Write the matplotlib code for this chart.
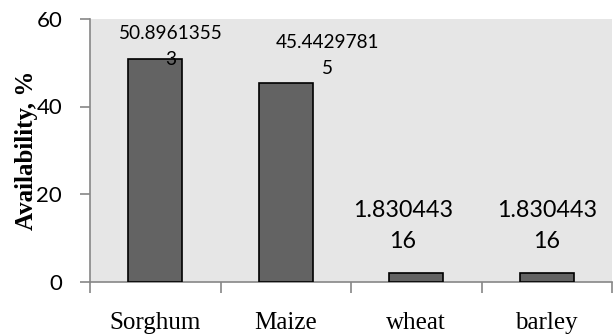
import textwrap
import matplotlib
matplotlib.use("Agg")
import matplotlib.pyplot as plt
from matplotlib.ticker import FixedLocator

# Feed availability by cereal
categories = ["Sorghum", "Maize", "wheat", "barley"]
availability = [50.89613553, 45.44297815, 1.83044316, 1.83044316]
y_ticks = [0, 20, 40, 60]

# Label styling: wrap width (chars), font size, offset from bar top (points)
label_wrap = [10, 10, 8, 8]
label_size = [13.7, 13.7, 16.8, 16.8]
label_offset = [(11.2, 8.9), (30.2, 19.6), (-9.7, 34.2), (0.0, 34.2)]

AXIS_GREY = "#868686"

fig = plt.figure(figsize=(6.13, 3.35), dpi=100)
ax = fig.add_axes([90 / 613, (335 - 281.5) / 335, 522 / 613, (281.5 - 19) / 335])
ax.set_facecolor("#e6e6e6")

x = range(len(categories))
ax.bar(x, availability, width=0.41, color="#636363", edgecolor="black", linewidth=1.2, zorder=3)

for i, v in enumerate(availability):
    text = "\n".join(textwrap.wrap(str(v), label_wrap[i]))
    ax.annotate(text, xy=(i, v), xytext=label_offset[i], textcoords="offset points",
                ha="center", va="center", fontsize=label_size[i], family="Lato",
                color="black", linespacing=1.6, zorder=4)

ax.set_xlim(-0.5, len(categories) - 0.5)
ax.set_ylim(0, 60)

for side in ("top", "right"):
    ax.spines[side].set_visible(False)
for side in ("left", "bottom"):
    ax.spines[side].set_color(AXIS_GREY)
    ax.spines[side].set_linewidth(1.2)

ax.yaxis.set_major_locator(FixedLocator(y_ticks))
ax.tick_params(axis="y", direction="out", length=7, width=1.2, color=AXIS_GREY,
               labelsize=16, pad=13)
for lbl in ax.get_yticklabels():
    lbl.set_family("Lato")

ax.set_xticks(list(x))
ax.set_xticklabels(categories, family="Liberation Serif", fontsize=18)
ax.set_xticks([i - 0.5 for i in range(len(categories) + 1)], minor=True)
ax.tick_params(axis="x", which="major", length=0, pad=22)
ax.tick_params(axis="x", which="minor", direction="out", length=8, width=1.2, color=AXIS_GREY)

fig.text(27 / 613, 1 - 150 / 335, "Availability, %", rotation=90, ha="center", va="center",
         family="Liberation Serif", fontweight="bold", fontsize=18)

fig.savefig("out.png", dpi=100)
